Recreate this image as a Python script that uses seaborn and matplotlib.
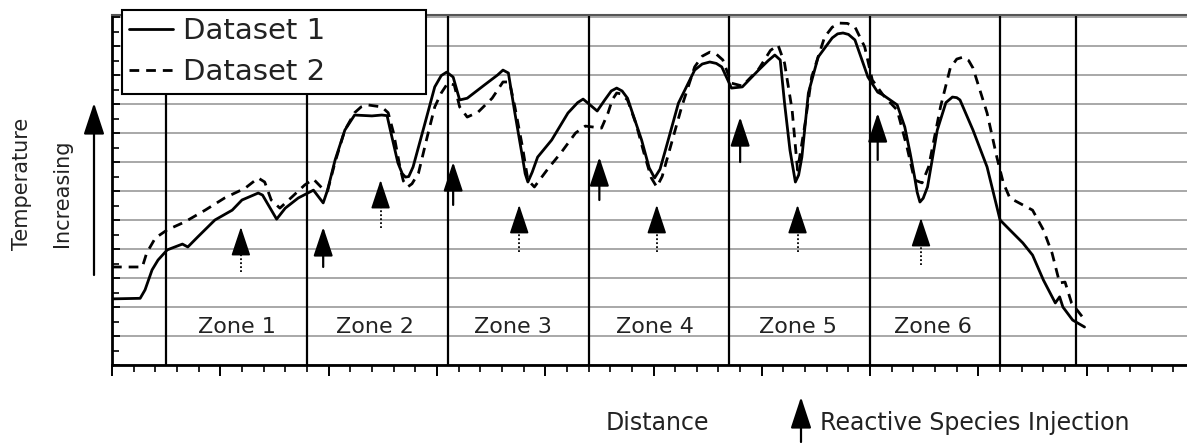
import matplotlib
matplotlib.use('Agg')
import matplotlib.pyplot as plt
import seaborn as sns
from matplotlib.ticker import MultipleLocator

sns.set_style('ticks')
plt.rcParams['font.family'] = ['DejaVu Sans']

# ---- data ----
dist1 = [0, 2.6, 3.05, 3.7, 4.25, 5.1, 6.5, 7.0, 7.9, 9.5, 11.1, 12.0, 13.5, 13.9,
         15.2, 16.0, 17.2, 18.6, 19.5, 19.9, 20.6, 21.5, 22.4, 24.0, 24.9, 25.4,
         25.7, 26.4, 26.8, 27.1, 27.4, 27.8, 28.9, 29.8, 30.4, 30.9, 31.5, 32.1, 32.8, 34.4,
         35.6, 36.1, 36.6, 37.2, 37.9, 38.15, 38.4, 38.8, 39.3, 40.6, 42.1, 43.0, 43.5,
         43.95, 44.8, 45.5, 46.1, 46.6, 47.1, 47.6, 48.9, 49.6, 50.1, 50.6, 51.1, 52.3,
         53.8, 54.5, 55.2, 55.8, 56.3, 57.2, 58.2, 59.7, 60.6, 61.2, 61.7, 62.1, 62.6,
         62.9, 63.1, 63.4, 63.7, 64.3, 65.2, 66.5, 67.0, 67.5, 68.0, 68.6, 69.8, 70.7,
         71.2, 72.5, 73.2, 73.7, 74.1, 74.35, 74.6, 74.9, 75.3, 76.2, 77.0, 77.6,
         78.0, 78.3, 79.5, 80.8, 82.0, 82.9, 84.1, 85.0, 86.0, 87.1, 87.5, 87.8,
         88.7, 89.8]
temp1 = [2.28, 2.3, 2.59, 3.28, 3.62, 3.97, 4.17, 4.07, 4.41, 5.0, 5.34, 5.69, 5.93, 5.86,
         5.03, 5.41, 5.76, 6.03, 5.59, 6.03, 7.07, 8.1, 8.62, 8.59, 8.62, 8.6,
         8.1, 6.97, 6.6, 6.48, 6.5, 6.83, 8.34, 9.59, 9.98, 10.1, 9.93, 9.14, 9.2, 9.66,
         10.0, 10.17, 10.07, 8.69, 7.17, 6.6, 6.31, 6.65, 7.17, 7.76, 8.69, 9.05, 9.17,
         9.03, 8.76, 9.14, 9.45, 9.55, 9.45, 9.2, 7.76, 6.8, 6.45, 6.75, 7.41, 9.03,
         10.17, 10.38, 10.45, 10.4, 10.28, 9.55, 9.59, 10.17, 10.5, 10.69, 10.52, 9.03, 7.41,
         6.75, 6.31, 6.55, 7.17, 9.38, 10.62, 11.28, 11.42, 11.45, 11.4, 11.21, 9.93, 9.41,
         9.31, 8.97, 8.21, 7.3, 6.5, 5.95, 5.62, 5.75, 6.14, 8.1, 9.05, 9.24,
         9.22, 9.14, 8.1, 6.83, 5.0, 4.66, 4.21, 3.79, 2.93, 2.14, 2.35, 2.0,
         1.55, 1.31]

dist2 = [0, 2.8, 3.2, 4.0, 5.1, 6.7, 8.6, 10.4, 12.3, 13.5, 14.1, 14.7, 15.5, 16.6,
         17.8, 18.6, 19.4, 19.9, 20.6, 21.5, 22.4, 23.0, 23.6, 24.9, 25.5, 26.0, 26.6,
         26.9, 27.3, 27.7, 28.3, 29.1, 29.8, 30.4, 31.0, 31.6, 32.1, 32.8, 33.8, 35.1,
         36.1, 36.7, 37.2, 37.9, 38.4, 39.0, 40.3, 41.5, 42.8, 43.7, 45.2, 45.8, 46.2,
         46.6, 47.0, 47.6, 48.4, 49.2, 49.8, 50.3, 50.8, 51.3, 52.6, 53.8, 54.5, 55.2,
         55.8, 56.4, 57.2, 58.2, 59.7, 60.8, 61.5, 62.1, 62.8, 63.3, 64.0, 64.6, 65.8,
         66.5, 67.2, 67.9, 68.6, 69.5, 70.2, 71.2, 72.5, 73.4, 74.1, 74.8, 75.4, 76.5,
         77.4, 78.0, 78.6, 79.1, 79.5, 80.8, 81.7, 82.3, 82.9, 84.1, 85.0, 86.0, 86.8,
         87.5, 88.0, 88.6, 89.6]
temp2 = [3.38, 3.38, 3.86, 4.38, 4.66, 4.93, 5.34, 5.76, 6.1, 6.45, 6.31, 5.69, 5.41, 5.79,
         6.21, 6.41, 6.1, 6.0, 7.0, 8.1, 8.7, 8.9, 8.97, 8.9, 8.7, 8.0, 6.8,
         6.35, 6.14, 6.25, 6.62, 7.86, 8.9, 9.38, 9.72, 9.66, 8.9, 8.55, 8.72, 9.2,
         9.76, 9.76, 8.9, 7.52, 6.38, 6.14, 6.79, 7.34, 8.0, 8.24, 8.17, 8.69, 9.15,
         9.38, 9.35, 9.14, 8.3, 7.2, 6.45, 6.14, 6.5, 7.17, 8.9, 10.28, 10.65, 10.79,
         10.72, 10.52, 9.72, 9.62, 10.2, 10.85, 11.03, 10.41, 8.79, 6.72, 8.34, 9.93, 11.31,
         11.65, 11.79, 11.78, 11.66, 10.97, 9.83, 9.31, 8.79, 7.52, 6.38, 6.28, 6.83, 8.9,
         10.24, 10.55, 10.62, 10.5, 10.24, 8.69, 7.17, 6.28, 5.76, 5.52, 5.34, 4.66, 3.86,
         2.83, 2.86, 2.14, 1.66]

zone_bounds = [5, 18, 31, 44, 57, 70, 82, 89]
zone_labels = ['Zone 1', 'Zone 2', 'Zone 3', 'Zone 4', 'Zone 5', 'Zone 6']
zone_label_x = [11.5, 24.3, 37.0, 50.1, 63.3, 75.8]
zone_label_y = 1.31

# injection arrows: solid stem
solid_arrow_x = [19.5, 31.5, 45.0, 58.0, 70.7]
solid_arrow_tip = [4.76, 7.0, 7.17, 8.55, 8.69]
solid_arrow_tail = [3.38, 5.52, 5.69, 7.0, 7.07]
# injection arrows: dotted stem
dotted_arrow_x = [11.9, 24.8, 37.6, 50.3, 63.3, 74.7]
dotted_arrow_tip = [4.76, 6.38, 5.52, 5.52, 5.52, 5.07]
dotted_arrow_tail = [3.2, 4.72, 3.9, 3.9, 3.9, 3.45]

# ---- figure ----
W, H = 1187, 443
fig = plt.figure(figsize=(W / 100, H / 100), dpi=100)
ax = fig.add_axes([112 / W, 78 / H, 1075 / W, 350 / H])

for z in zone_bounds:
    ax.axvline(z, color='black', lw=1.6, zorder=2)

sns.lineplot(x=dist1, y=temp1, ax=ax, color='black', lw=2.0, sort=False,
             estimator=None, label='Dataset 1', zorder=3,
             solid_joinstyle='round', solid_capstyle='round')
sns.lineplot(x=dist2, y=temp2, ax=ax, color='black', lw=2.0, sort=False,
             estimator=None, label='Dataset 2', zorder=3, linestyle=(0, (3.5, 2.5)),
             dash_joinstyle='round')

ax.set_xlim(0, 99.26)
ax.set_ylim(0, 12.07)
ax.xaxis.set_major_locator(MultipleLocator(10))
ax.xaxis.set_minor_locator(MultipleLocator(2))
ax.yaxis.set_major_locator(MultipleLocator(1))
ax.yaxis.set_minor_locator(MultipleLocator(0.5))
ax.tick_params(axis='x', which='major', direction='out', length=8, width=1.4,
               labelbottom=False, color='black')
ax.tick_params(axis='x', which='minor', direction='out', length=5, width=1.2, color='black')
ax.tick_params(axis='y', which='major', direction='in', length=6, width=1.3,
               labelleft=False, color='black')
ax.tick_params(axis='y', which='minor', direction='in', length=5, width=1.2, color='black')
ax.grid(axis='y', which='major', color='#9a9a9a', lw=1.2)
ax.grid(axis='x', visible=False)
ax.set_axisbelow(True)
ax.set_xlabel('')
ax.set_ylabel('')

for s in ['left', 'bottom']:
    ax.spines[s].set_color('black')
    ax.spines[s].set_linewidth(2.0)
ax.spines['top'].set_color('#555555')
ax.spines['top'].set_linewidth(1.5)
ax.spines['right'].set_visible(False)

for lab, zx in zip(zone_labels, zone_label_x):
    ax.text(zx, zone_label_y, lab, ha='center', va='center', fontsize=16, color='#222222')

head_style = '-|>,head_length=0.9,head_width=0.3'
for x, tip, tail in zip(solid_arrow_x, solid_arrow_tip, solid_arrow_tail):
    ax.annotate('', xy=(x, tip), xytext=(x, tail),
                arrowprops=dict(arrowstyle=head_style, mutation_scale=20,
                                color='black', lw=1.6, shrinkA=0, shrinkB=0))
for x, tip, tail in zip(dotted_arrow_x, dotted_arrow_tip, dotted_arrow_tail):
    # dotted stem
    ax.plot([x, x], [tail, tip - 0.8], color='black', lw=1.3,
            linestyle=(0, (1, 1.2)), solid_capstyle='butt')
    # solid head
    ax.annotate('', xy=(x, tip), xytext=(x, tip - 0.85),
                arrowprops=dict(arrowstyle=head_style, mutation_scale=20,
                                color='black', lw=1.2, shrinkA=0, shrinkB=0))

# legend
handles, labels = ax.get_legend_handles_labels()
leg = ax.legend(handles, labels, loc='upper left',
                bbox_to_anchor=(122 / W, 0.5, 304 / W, 1 - 10 / H - 0.5),
                bbox_transform=fig.transFigure, mode='expand', borderaxespad=0,
                fontsize=21, frameon=True, fancybox=False, edgecolor='black',
                framealpha=1, handlelength=1.5, handletextpad=0.35,
                borderpad=0.25, labelspacing=0.45)
leg.get_frame().set_linewidth(1.5)
for t in leg.get_texts():
    t.set_color('#222222')

# y-axis description
fig.text(22 / W, 1 - 184 / H, 'Temperature', rotation=90, ha='center', va='center',
         fontsize=15, color='#222222')
fig.text(62 / W, 1 - 193 / H, 'Increasing', rotation=90, ha='center', va='center',
         fontsize=15, color='#222222')
ax.annotate('', xy=(94 / W, 1 - 103 / H), xytext=(94 / W, 1 - 275 / H),
            xycoords='figure fraction', textcoords='figure fraction',
            annotation_clip=False,
            arrowprops=dict(arrowstyle='-|>,head_length=0.97,head_width=0.32',
                            mutation_scale=20, color='black', lw=1.6,
                            shrinkA=0, shrinkB=0))

# bottom texts
fig.text(657 / W, 1 - 423 / H, 'Distance', ha='center', va='center', fontsize=17,
         color='#222222')
fig.text(820 / W, 1 - 423 / H, 'Reactive Species Injection', ha='left', va='center',
         fontsize=17, color='#222222')
ax.annotate('', xy=(801 / W, 1 - 397 / H), xytext=(801 / W, 1 - 442 / H),
            xycoords='figure fraction', textcoords='figure fraction',
            annotation_clip=False,
            arrowprops=dict(arrowstyle='-|>,head_length=0.97,head_width=0.32',
                            mutation_scale=20, color='black', lw=1.6,
                            shrinkA=0, shrinkB=0))

fig.savefig('out.png', dpi=100)
